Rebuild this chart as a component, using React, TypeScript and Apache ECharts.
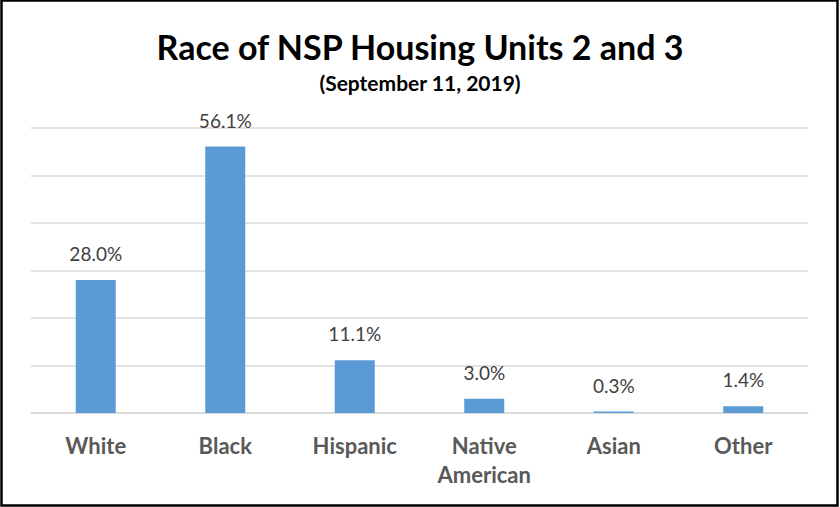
import React, { useEffect, useRef } from "react";
import * as echarts from "echarts";

const categories = ["White", "Black", "Hispanic", "Native\nAmerican", "Asian", "Other"];
const values = [28.0, 56.1, 11.1, 3.0, 0.3, 1.4];
const titleText = "Race of NSP Housing Units 2 and 3";
const subtitleText = "(September 11, 2019)";

export default function App() {
  const ref = useRef<HTMLDivElement>(null);
  useEffect(() => {
    document.body.style.margin = "0";
    const chart = echarts.init(ref.current!, null, { renderer: "svg" });
    chart.setOption({
      animation: false,
      backgroundColor: "#ffffff",
      title: {
        text: titleText,
        subtext: subtitleText,
        left: "center",
        top: 24,
        itemGap: 9,
        textStyle: { fontFamily: "Lato", fontWeight: "bold", fontSize: 34, color: "#000000" },
        subtextStyle: { fontFamily: "Lato", fontWeight: "bold", fontSize: 21, color: "#000000" },
      },
      grid: { left: 31, right: 32, top: 128, bottom: 94, containLabel: false },
      xAxis: {
        type: "category",
        data: categories,
        axisLine: { show: true, lineStyle: { color: "#d9d9d9", width: 1.5 } },
        axisTick: { show: false },
        axisLabel: {
          margin: 18,
          fontFamily: "Lato",
          fontWeight: "bold",
          fontSize: 22,
          color: "#595959",
          lineHeight: 29,
          interval: 0,
        },
      },
      yAxis: {
        type: "value",
        min: 0,
        max: 60,
        interval: 10,
        axisLabel: { show: false },
        axisLine: { show: false },
        axisTick: { show: false },
        splitLine: { lineStyle: { color: "#d9d9d9", width: 1.5 } },
      },
      series: [
        {
          type: "bar",
          data: values,
          barWidth: 40,
          itemStyle: { color: "#5b9bd5" },
          label: {
            show: true,
            position: "top",
            distance: 17,
            fontFamily: "Lato",
            fontSize: 19,
            color: "#404040",
            formatter: (p: any) => p.value.toFixed(1) + "%",
          },
        },
      ],
      graphic: [
        {
          type: "rect",
          shape: { x: 1.5, y: 0.5, width: 836, height: 505 },
          style: { fill: "none", stroke: "#000000", lineWidth: 2.5 },
          silent: true,
        },
      ],
    });
    return () => chart.dispose();
  }, []);
  return <div ref={ref} style={{ width: 840, height: 507 }} />;
}
